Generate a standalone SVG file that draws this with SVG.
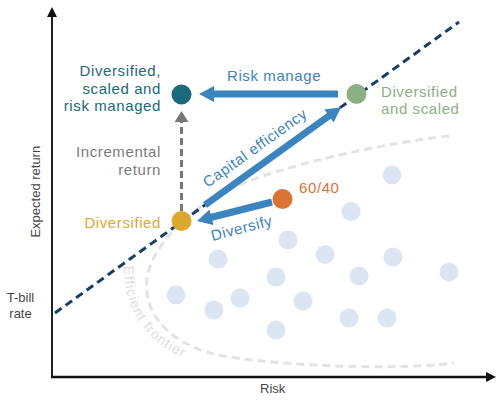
<svg xmlns="http://www.w3.org/2000/svg" width="500" height="401" viewBox="0 0 500 401">
<style>
text{font-family:"Liberation Sans",Arial,sans-serif;}
.lbl{font-size:15px;letter-spacing:0.6px;}
.ax{font-size:13px;fill:#474747;}
.dot{fill:#dce6f3;}
.blue{stroke:#3a84c0;stroke-width:7;fill:none;marker-end:url(#bh);}
</style>
<defs>
<marker id="bh" markerUnits="userSpaceOnUse" markerWidth="16" markerHeight="16" viewBox="0 0 16 16" refX="5" refY="8" orient="auto">
<path d="M0,0 L15,8 L0,16 z" fill="#3a84c0"/>
</marker>
<marker id="gh" markerUnits="userSpaceOnUse" markerWidth="12" markerHeight="14" viewBox="0 0 12 14" refX="0" refY="7" orient="auto">
<path d="M0,0 L11,7 L0,14 z" fill="#777"/>
</marker>
<path id="ftext" d="M124,266 C124,305 140,345 200,364"/>
</defs>
<rect width="500" height="401" fill="#fff"/>
<g id="frontier">
<path d="M449,136 C390,142 280,165 227,190 C200,203 146.5,245 146.5,285 C146.5,320 175,343 210,353 C245,363 380,372 454,363" fill="none" stroke="#e3e3e3" stroke-width="3" stroke-dasharray="8,5"/>
<text font-size="14" fill="#dedede" letter-spacing="1.1"><textPath href="#ftext">Efficient frontier</textPath></text>
</g>
<g id="scatter">
<circle class="dot" cx="392" cy="175" r="9.5"/>
<circle class="dot" cx="351" cy="211.5" r="9.5"/>
<circle class="dot" cx="288" cy="240" r="9.5"/>
<circle class="dot" cx="218" cy="259" r="9.5"/>
<circle class="dot" cx="325" cy="254.5" r="9.5"/>
<circle class="dot" cx="393" cy="257" r="9.5"/>
<circle class="dot" cx="449" cy="272" r="9.5"/>
<circle class="dot" cx="276" cy="277" r="9.5"/>
<circle class="dot" cx="359" cy="276" r="9.5"/>
<circle class="dot" cx="176" cy="295" r="9.5"/>
<circle class="dot" cx="240" cy="298" r="9.5"/>
<circle class="dot" cx="214" cy="310" r="9.5"/>
<circle class="dot" cx="303" cy="301" r="9.5"/>
<circle class="dot" cx="349" cy="318" r="9.5"/>
<circle class="dot" cx="387" cy="318" r="9.5"/>
<circle class="dot" cx="276" cy="330" r="9.5"/>
</g>
<g id="axes">
<line x1="52" y1="17" x2="52" y2="378" stroke="#222" stroke-width="2"/>
<polygon points="47,17 52,7 57,17" fill="#111"/>
<line x1="51" y1="377" x2="487" y2="377" stroke="#111" stroke-width="2.5"/>
<polygon points="486,372 496,377 486,382" fill="#111"/>
<text class="ax" transform="translate(40,191.7) rotate(-90)" text-anchor="middle">Expected return</text>
<text class="ax" x="260" y="392.5">Risk</text>
<text class="ax" x="20.5" y="302" text-anchor="middle">T-bill</text>
<text class="ax" x="20.5" y="318" text-anchor="middle">rate</text>
</g>
<g id="cml">
<line x1="55" y1="313" x2="459" y2="22" stroke="#153f6b" stroke-width="3" stroke-dasharray="8,5"/>
</g>
<g id="connectors">
<line x1="181.5" y1="211" x2="181.5" y2="122" stroke="#777" stroke-width="3" stroke-dasharray="7,4" marker-end="url(#gh)"/>
<line class="blue" x1="338" y1="94" x2="209" y2="94"/>
<line class="blue" x1="205" y1="205" x2="333" y2="113"/>
<line class="blue" x1="272" y1="202" x2="206.7" y2="218.5"/>
<text class="lbl" x="227" y="81" fill="#3a84c0">Risk manage</text>
<text class="lbl" transform="translate(258,152) rotate(-35.5)" text-anchor="middle" fill="#3a84c0">Capital efficiency</text>
<text class="lbl" transform="translate(243,233) rotate(-14.5)" text-anchor="middle" fill="#3a84c0">Diversify</text>
<text class="lbl" x="161" y="157" text-anchor="end" fill="#7a7a7a">Incremental</text>
<text class="lbl" x="161" y="175" text-anchor="end" fill="#7a7a7a">return</text>
</g>
<g id="node-managed">
<circle cx="181.5" cy="94.5" r="10" fill="#196a7b"/>
<text class="lbl" x="161" y="76" text-anchor="end" fill="#196a7b">Diversified,</text>
<text class="lbl" x="161" y="93.5" text-anchor="end" fill="#196a7b">scaled and</text>
<text class="lbl" x="161" y="111" text-anchor="end" fill="#196a7b">risk managed</text>
</g>
<g id="node-scaled">
<circle cx="356.5" cy="94" r="10" fill="#8cb083"/>
<text class="lbl" x="381" y="96.5" fill="#8cb083">Diversified</text>
<text class="lbl" x="381" y="113.5" fill="#8cb083">and scaled</text>
</g>
<g id="node-diversified">
<circle cx="181.5" cy="221" r="10" fill="#dca92d"/>
<text class="lbl" x="161" y="228" text-anchor="end" fill="#dca92d">Diversified</text>
</g>
<g id="node-6040">
<circle cx="282.5" cy="199" r="10" fill="#da7430"/>
<text class="lbl" x="299" y="193" fill="#da7430">60/40</text>
</g>
</svg>
